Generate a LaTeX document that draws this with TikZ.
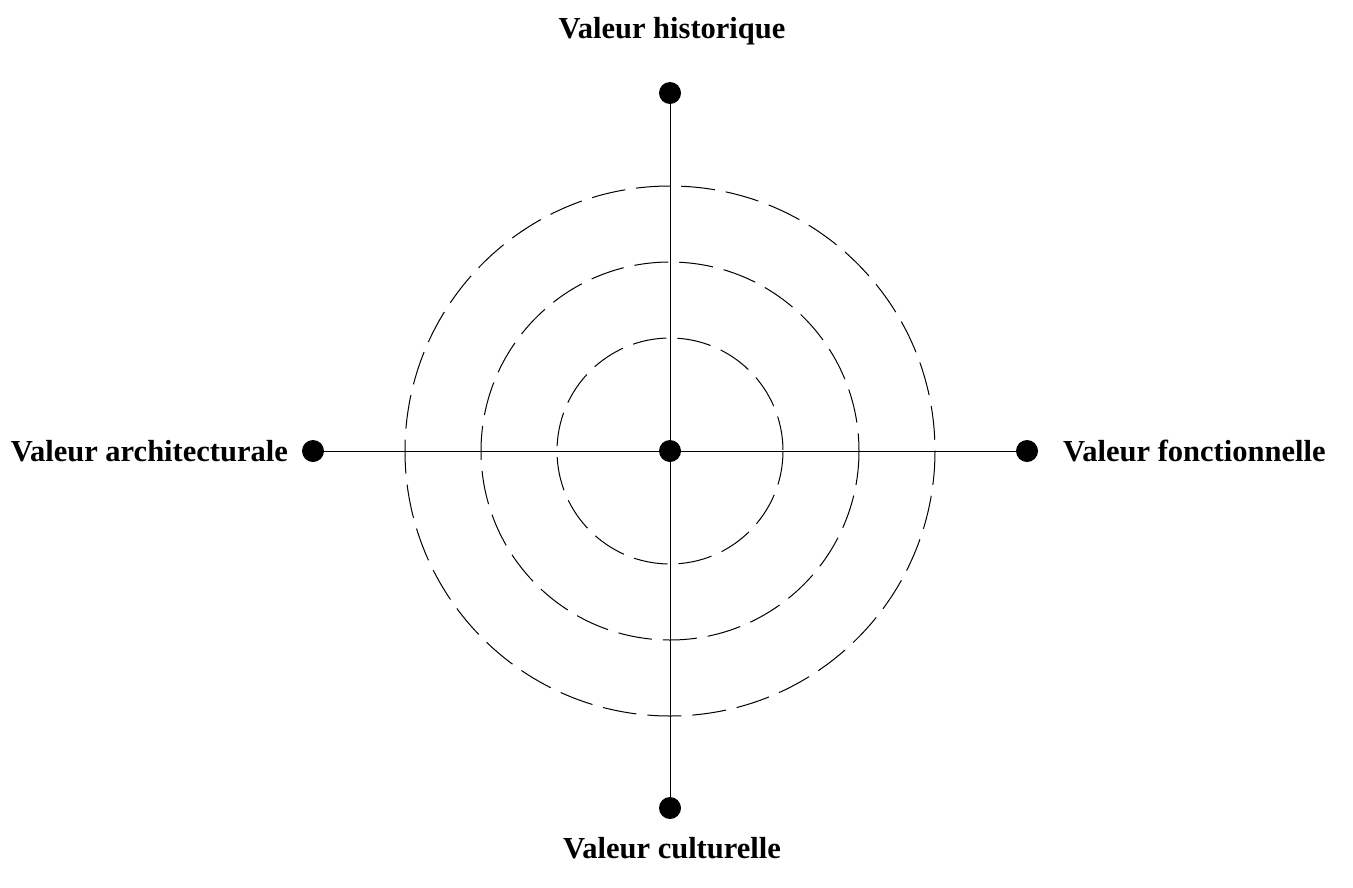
\documentclass[tikz,border=0pt]{standalone}
\usepackage{fontspec}
\setmainfont{Liberation Serif}
\begin{document}
\begin{tikzpicture}[x=1pt,y=-1pt,
  dot/.style={circle,fill=black,inner sep=0pt,minimum size=22pt},
  lbl/.style={font=\fontsize{30.5}{34}\selectfont\bfseries,inner sep=0pt},
  axis/.style={line width=1pt},
  ring/.style={line width=1pt,dash pattern=on 34pt off 11pt}]
\useasboundingbox (0,0) rectangle (1353,887);
\node[dot] (c) at (670,451) {};
\node[dot] (t) at (670,93) {};
\node[dot] (b) at (670,808) {};
\node[dot] (l) at (313,451) {};
\node[dot] (r) at (1027,451) {};
\draw[axis] (t.center) -- (b.center);
\draw[axis] (l.center) -- (r.center);
\draw[ring] (c.center) circle[radius=113];
\draw[ring] (c.center) circle[radius=189];
\draw[ring] (c.center) circle[radius=265];
\node[lbl,anchor=base] (th) at (672,38) {Valeur historique};
\node[lbl,anchor=base] (tb) at (672,858) {Valeur culturelle};
\node[lbl,anchor=base east] (tl) at (288,461) {Valeur architecturale};
\node[lbl,anchor=base west] (tr) at (1063,461) {Valeur fonctionnelle};
\end{tikzpicture}
\end{document}
